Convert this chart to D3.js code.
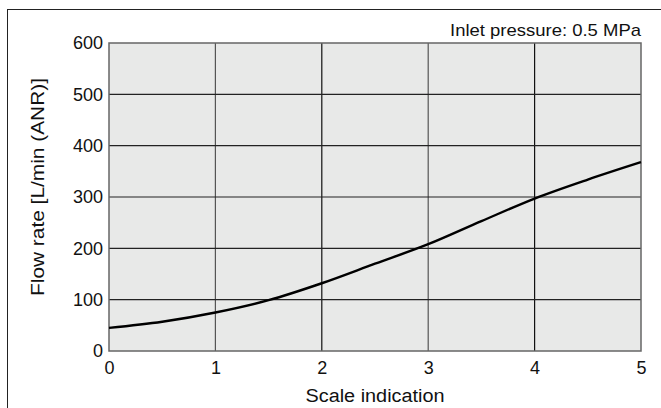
<!DOCTYPE html>
<html><head><meta charset="utf-8">
<script src="https://cdn.jsdelivr.net/npm/d3@7"></script>
<style>body{margin:0;background:#fff;}svg{display:block;font-family:"Liberation Sans",Arial,sans-serif;}</style>
</head><body>
<svg id="c" width="661" height="408"></svg>
<script>
const scaleIndication = [0, 0.5, 1, 1.5, 2, 2.5, 3, 3.5, 4, 4.5, 5];
const flowRate = [45, 57, 75, 99, 132, 170, 208, 253, 297, 334, 368];
const xTicks = [0, 1, 2, 3, 4, 5];
const yTicks = [0, 100, 200, 300, 400, 500, 600];
const xTitle = "Scale indication";
const yTitle = "Flow rate [L/min (ANR)]";
const note = "Inlet pressure: 0.5 MPa";

const svg = d3.select("#c");
const x = d3.scaleLinear().domain([0, 5]).range([109, 641]);
const y = d3.scaleLinear().domain([0, 600]).range([351, 43]);

// outer frame
svg.append("rect").attr("x", 7.5).attr("y", 9.5).attr("width", 700).attr("height", 500)
  .attr("fill", "none").attr("stroke", "#222").attr("stroke-width", 1);

// plot background
svg.append("rect").attr("x", x(0)).attr("y", y(600)).attr("width", x(5) - x(0)).attr("height", y(0) - y(600))
  .attr("fill", "#e8e9e8");

// grid
const g = svg.append("g");
g.selectAll("line.v").data(xTicks.slice(1, -1)).join("line")
  .attr("x1", d => x(d)).attr("x2", d => x(d)).attr("y1", y(600)).attr("y2", y(0))
  .attr("stroke", (d, i) => i % 2 === 0 ? "#555" : "#111").attr("stroke-width", 1.2);
g.selectAll("line.h").data(yTicks.slice(1, -1)).join("line")
  .attr("y1", d => y(d)).attr("y2", d => y(d)).attr("x1", x(0)).attr("x2", x(5))
  .attr("stroke", "#222").attr("stroke-width", 1.2);

// border
svg.append("rect").attr("x", x(0)).attr("y", y(600)).attr("width", x(5) - x(0)).attr("height", y(0) - y(600))
  .attr("fill", "none").attr("stroke", "#666").attr("stroke-width", 1.5);

// axes labels
const xAxis = d3.axisBottom(x).tickValues(xTicks).tickSize(0).tickPadding(10).tickFormat(d3.format("d"));
const xa = svg.append("g").attr("transform", `translate(0,${y(0)})`).call(xAxis);
xa.select(".domain").remove();
xa.selectAll("text").attr("font-size", 18).attr("fill", "#111").attr("font-family", "Liberation Sans, Arial, sans-serif");

const yAxis = d3.axisLeft(y).tickValues(yTicks).tickSize(0).tickPadding(6).tickFormat(d3.format("d"));
const ya = svg.append("g").attr("transform", `translate(${x(0)},0)`).call(yAxis);
ya.select(".domain").remove();
ya.selectAll("text").attr("font-size", 18).attr("fill", "#111").attr("font-family", "Liberation Sans, Arial, sans-serif");

// curve
const line = d3.line().x((d, i) => x(scaleIndication[i])).y(d => y(d)).curve(d3.curveMonotoneX);
svg.append("path").datum(flowRate).attr("d", line).attr("fill", "none")
  .attr("stroke", "#000").attr("stroke-width", 2.4);

// titles
svg.append("text").attr("x", (x(0) + x(5)) / 2).attr("y", 402).attr("text-anchor", "middle")
  .attr("font-size", 18).attr("fill", "#111")
  .attr("textLength", 139).attr("lengthAdjust", "spacingAndGlyphs").text(xTitle);
svg.append("text").attr("transform", `translate(44,${(y(0) + y(600)) / 2 - 10}) rotate(-90)`)
  .attr("text-anchor", "middle").attr("font-size", 18).attr("fill", "#111")
  .attr("textLength", 218).attr("lengthAdjust", "spacingAndGlyphs").text(yTitle);
svg.append("text").attr("x", 641).attr("y", 36).attr("text-anchor", "end")
  .attr("font-size", 17).attr("fill", "#111")
  .attr("textLength", 191).attr("lengthAdjust", "spacingAndGlyphs").text(note);
</script>
</body></html>
